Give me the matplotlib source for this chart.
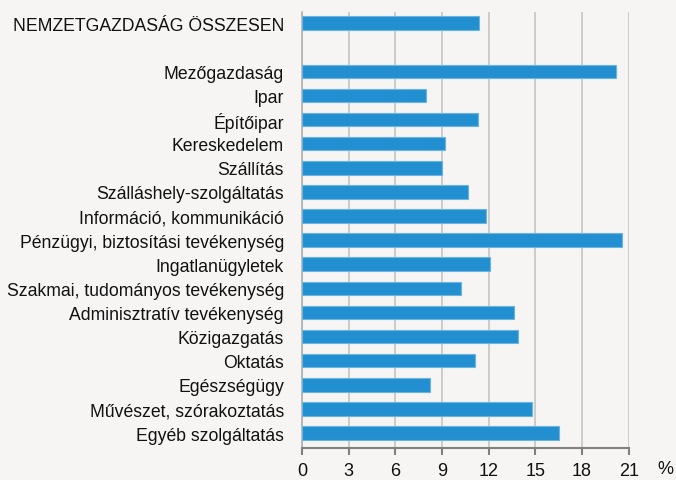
import matplotlib
matplotlib.use("Agg")
import matplotlib.pyplot as plt
from matplotlib import font_manager

categories = [
    "NEMZETGAZDASÁG ÖSSZESEN",
    "Mezőgazdaság",
    "Ipar",
    "Építőipar",
    "Kereskedelem",
    "Szállítás",
    "Szálláshely-szolgáltatás",
    "Információ, kommunikáció",
    "Pénzügyi, biztosítási tevékenység",
    "Ingatlanügyletek",
    "Szakmai, tudományos tevékenység",
    "Adminisztratív tevékenység",
    "Közigazgatás",
    "Oktatás",
    "Egészségügy",
    "Művészet, szórakoztatás",
    "Egyéb szolgáltatás",
]
values = [11.4, 20.2, 8.0, 11.3, 9.2, 9.0, 10.7, 11.8, 20.6, 12.1, 10.2, 13.6, 13.9, 11.1, 8.2, 14.8, 16.5]
xticks = [0, 3, 6, 9, 12, 15, 18, 21]

names = {f.name for f in font_manager.fontManager.ttflist}
fam = [f for f in ["Liberation Sans Narrow", "Liberation Sans", "DejaVu Sans"] if f in names]
plt.rcParams['font.family'] = fam

bg = "#f6f5f3"
fig = plt.figure(figsize=(6.76, 4.81), dpi=100, facecolor=bg)
ax = fig.add_axes([302/676, 1-449/481, (628.7-302)/676, (449-13)/481])
ax.set_facecolor(bg)

pos = [0] + list(range(2, 2 + len(categories) - 1))
ax.barh(pos, values, height=0.56, color="#2290d0", edgecolor="#6cb4e0", linewidth=0.8, zorder=3)
ax.set_yticks(pos)
ax.set_yticklabels(categories, fontsize=12.7, color="#111111")
ax.set_ylim(17.62, -0.46)
ax.set_xlim(0, 21)
ax.set_xticks(xticks)
ax.set_xticklabels([str(t) for t in xticks], fontsize=13, color="#111111")
ax.tick_params(axis='y', length=0, pad=13)
ax.tick_params(axis='x', length=5, width=1.5, color="#808080", direction='out', pad=5)
ax.grid(axis='x', color="#c4c4c4", linewidth=1.2, zorder=0)
for s in ["top", "right"]:
    ax.spines[s].set_visible(False)
ax.spines["left"].set_color("#b0b0b0")
ax.spines["left"].set_linewidth(1.2)
ax.spines["bottom"].set_color("#808080")
ax.spines["bottom"].set_linewidth(1.5)
fig.text(665/676, 1-470/481, "%", fontsize=13, ha="center", va="center", color="#111111")

fig.savefig("out.png", dpi=100, facecolor=bg)
